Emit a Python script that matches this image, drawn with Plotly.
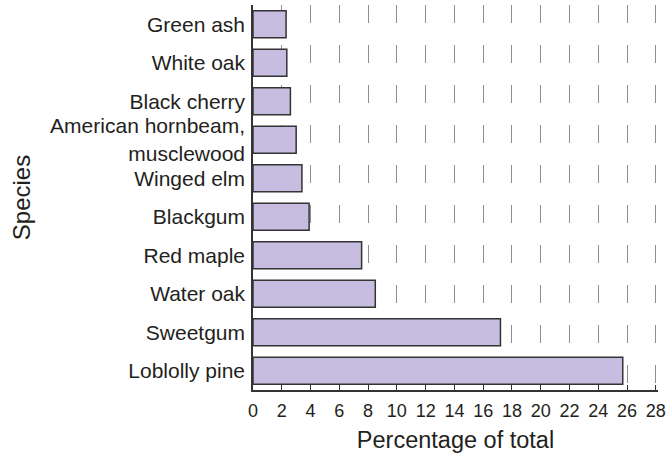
import plotly.graph_objects as go

species = [
    "Green ash",
    "White oak",
    "Black cherry",
    "American hornbeam,<br>musclewood",
    "Winged elm",
    "Blackgum",
    "Red maple",
    "Water oak",
    "Sweetgum",
    "Loblolly pine",
]
percent = [2.3, 2.35, 2.6, 3.0, 3.4, 3.9, 7.55, 8.5, 17.2, 25.7]
x_ticks = list(range(0, 29, 2))

font_family = "Liberation Sans, Arial, Helvetica, sans-serif"
text_color = "#231f20"

fig = go.Figure(
    go.Bar(
        y=species,
        x=percent,
        orientation="h",
        width=0.7,
        marker=dict(color="#c6bde0", line=dict(color="#333333", width=1.5)),
    )
)

fig.update_layout(
    width=668,
    height=453,
    margin=dict(l=253, r=10, t=5, b=63),
    plot_bgcolor="white",
    paper_bgcolor="white",
    font=dict(family=font_family, color=text_color),
    showlegend=False,
)

fig.update_xaxes(
    automargin=False,
    range=[0, 28.15],
    tickvals=x_ticks,
    ticktext=[str(v) for v in x_ticks],
    tickfont=dict(size=18),
    ticks="inside",
    ticklen=5,
    tickwidth=1.2,
    tickcolor="#333333",
    ticklabelstandoff=4,
    showline=True,
    linecolor="#333333",
    linewidth=1.5,
    showgrid=True,
    gridcolor="#8f8f8f",
    gridwidth=1.3,
    griddash="18px,22px",
    zeroline=False,
    title=dict(text="Percentage of total", font=dict(size=23.5), standoff=14),
)

fig.update_yaxes(
    automargin=False,
    autorange="reversed",
    tickfont=dict(size=21),
    ticks="",
    ticklabelstandoff=2,
    showline=True,
    linecolor="#333333",
    linewidth=1.5,
    showgrid=False,
    title=dict(text="Species", font=dict(size=24), standoff=13),
)

fig.write_html(
    "out.html",
    config={"displayModeBar": False},
    post_script="document.body.style.margin='0';document.body.style.padding='0';",
)
